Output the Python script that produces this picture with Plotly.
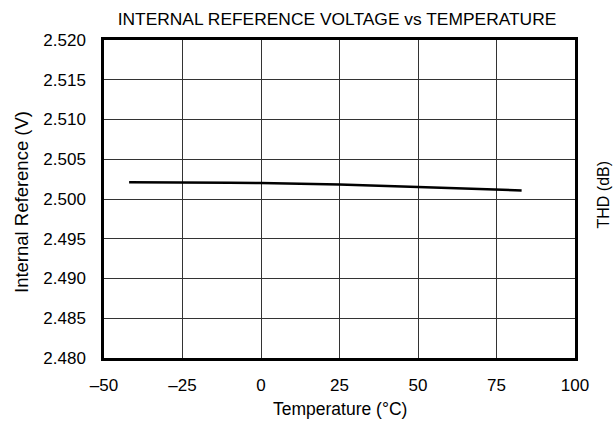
import plotly.graph_objects as go

temps = [-42, -25, -10, 0, 25, 50, 75, 83]
vref = [2.5021, 2.5021, 2.50205, 2.5020, 2.50183, 2.5015, 2.5012, 2.50108]

x_ticks = [-50, -25, 0, 25, 50, 75, 100]
x_ticktext = ["–50", "–25", "0", "25", "50", "75", "100"]
y_ticks = [2.480, 2.485, 2.490, 2.495, 2.500, 2.505, 2.510, 2.515, 2.520]
y_ticktext = ["2.480", "2.485", "2.490", "2.495", "2.500", "2.505", "2.510", "2.515", "2.520"]

FONT = "Liberation Sans, Arial, sans-serif"

fig = go.Figure()
fig.add_trace(go.Scatter(x=temps, y=vref, mode="lines",
                         line=dict(color="black", width=2.5),
                         showlegend=False, hoverinfo="skip"))

fig.update_layout(
    width=613, height=426,
    margin=dict(l=103.5, r=37.5, t=39.5, b=67.5),
    paper_bgcolor="white", plot_bgcolor="white",
    font=dict(family=FONT, size=17, color="black"),
    title=dict(text="INTERNAL REFERENCE VOLTAGE vs TEMPERATURE",
               xref="container", yref="container",
               x=337 / 613, xanchor="center", y=1 - 18.5 / 426, yanchor="middle",
               font=dict(size=17.4)),
    xaxis=dict(range=[-50, 100], tickvals=x_ticks, ticktext=x_ticktext,
               showgrid=True, gridcolor="#333", gridwidth=1,
               zeroline=False, showline=True, linecolor="black", linewidth=2.5,
               mirror=True, ticks="outside", ticklen=10, tickcolor="rgba(0,0,0,0)",
               tickfont=dict(size=17)),
    yaxis=dict(range=[2.480, 2.520], tickvals=y_ticks, ticktext=y_ticktext,
               showgrid=True, gridcolor="#333", gridwidth=1,
               zeroline=False, showline=True, linecolor="black", linewidth=2.5,
               mirror=True, ticks="outside", ticklen=12, tickcolor="rgba(0,0,0,0)",
               tickfont=dict(size=17)),
    annotations=[
        dict(text="Temperature (°C)", xref="paper", yref="paper",
             x=0.5, y=0, xanchor="center", yanchor="middle", yshift=-51,
             showarrow=False, font=dict(size=17.5)),
        dict(text="Internal Reference (V)", xref="paper", yref="paper",
             x=0, y=0.5, xanchor="center", yanchor="middle", xshift=-83, yshift=-3,
             textangle=-90, showarrow=False, font=dict(size=18.5)),
        dict(text="THD (dB)", xref="paper", yref="paper",
             x=1.0, y=0.5, xanchor="center", yanchor="middle",
             xshift=27.5, yshift=4, textangle=-90, showarrow=False,
             font=dict(size=16)),
    ],
)

fig.write_html(
    "out.html",
    config={"displayModeBar": False},
    post_script="document.body.style.margin='0';document.body.style.overflow='hidden';",
)
